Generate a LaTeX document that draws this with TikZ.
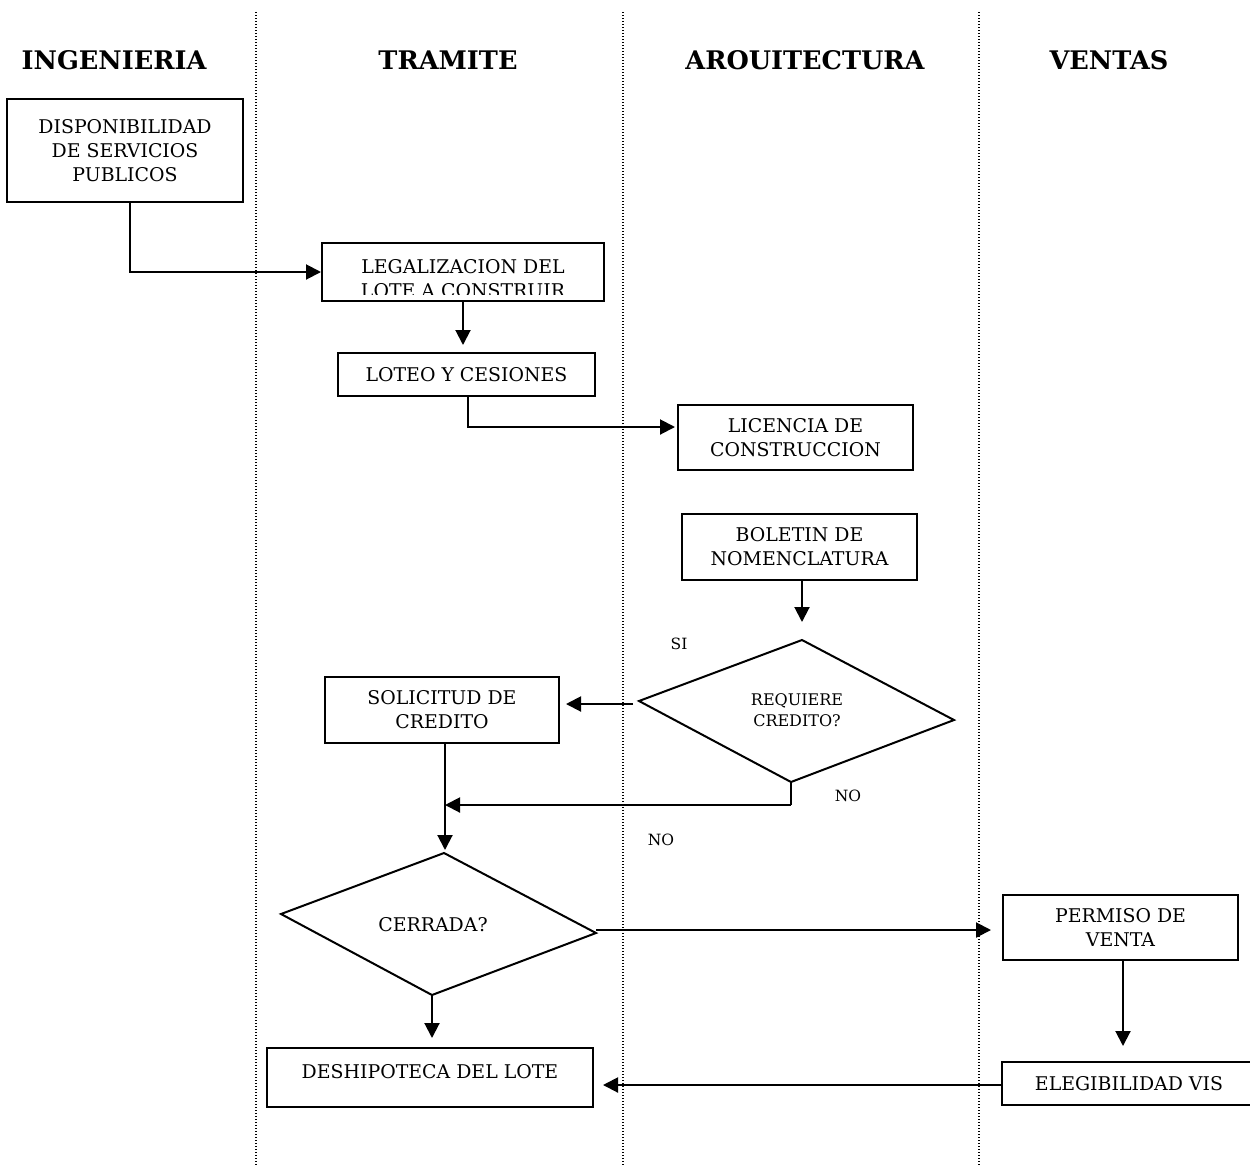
\documentclass[tikz,border=0pt]{standalone}
\usepackage{fontspec}
\setmainfont{DejaVu Serif}
\usetikzlibrary{arrows.meta,calc}

\tikzset{
  box/.style={draw, line width=2pt, inner sep=0pt, align=center,
    font=\fontsize{18.9}{24}\selectfont},
  boxtext/.style={inner sep=0pt, align=center, font=\fontsize{18.9}{24}\selectfont},
  smalltext/.style={inner sep=0pt, align=center, font=\fontsize{16}{21}\selectfont},
  tag/.style={inner sep=0pt, font=\fontsize{15.5}{20}\selectfont},
  lanehead/.style={inner sep=0pt, anchor=base, font=\fontsize{25.6}{30}\selectfont\bfseries},
  lane/.style={line width=1.4pt, dash pattern=on 1.4pt off 1.6pt},
  shape line/.style={line width=2pt, line join=miter},
  arr/.style={line width=2pt, -{Triangle[length=15pt,width=15pt]}},
  plain/.style={line width=2pt}
}

\begin{document}
\begin{tikzpicture}[x=1pt, y=-1pt]
  \useasboundingbox (0,0) rectangle (1250,1165);

  % lane separators
  \draw[lane] (256,12) -- (256,1165);
  \draw[lane] (623,12) -- (623,1165);
  \draw[lane] (979,12) -- (979,1165);

  % lane headings
  \node[lanehead] (hIng) at (114,69) {INGENIERIA};
  \node[lanehead] (hTra) at (448,69) {TRAMITE};
  \node[lanehead] (hArq) at (805,69) {AROUITECTURA};
  \node[lanehead] (hVen) at (1109,69) {VENTAS};

  % process boxes
  \node[box, minimum width=236pt, minimum height=103pt] (disp) at (125,150.5)
    {DISPONIBILIDAD\\DE SERVICIOS\\PUBLICOS};
  \node[box, minimum width=282pt, minimum height=58pt] (legal) at (463,272) {};
  \begin{scope}
    \clip ($(legal.south west)+(0,-8)$) rectangle (legal.north east);
    \node[boxtext] (legalText) at (463,279) {LEGALIZACION DEL\\LOTE A CONSTRUIR};
  \end{scope}
  \node[box, minimum width=257pt, minimum height=43pt] (loteo) at (466.5,374.5)
    {LOTEO Y CESIONES};
  \node[box, minimum width=235pt, minimum height=65pt] (licencia) at (795.5,437.5)
    {LICENCIA DE\\CONSTRUCCION};
  \node[box, minimum width=235pt, minimum height=66pt] (boletin) at (799.5,547)
    {BOLETIN DE\\NOMENCLATURA};
  \node[box, minimum width=234pt, minimum height=66pt] (solicitud) at (442,710)
    {SOLICITUD DE\\CREDITO};
  \node[box, minimum width=326pt, minimum height=59pt, text depth=13pt] (deship) at (430,1077.5)
    {DESHIPOTECA DEL LOTE};
  \node[box, minimum width=235pt, minimum height=65pt] (permiso) at (1120.5,927.5)
    {PERMISO DE\\VENTA};
  \node[box, minimum width=254pt, minimum height=43pt] (eleg) at (1129,1083.5)
    {ELEGIBILIDAD VIS};

  % decision: requiere credito
  \coordinate (rqT) at (802,640);
  \coordinate (rqR) at (954,720);
  \coordinate (rqB) at (791,782);
  \coordinate (rqL) at (639,701);
  \draw[shape line] (rqT) -- (rqR) -- (rqB) -- (rqL) -- cycle;
  \node[smalltext] (rq) at (797,710) {REQUIERE\\CREDITO?};

  % decision: cerrada
  \coordinate (crT) at (444,853);
  \coordinate (crR) at (596,933);
  \coordinate (crB) at (432,995);
  \coordinate (crL) at (281,914);
  \draw[shape line] (crT) -- (crR) -- (crB) -- (crL) -- cycle;
  \node[boxtext] (cr) at (433,925) {CERRADA?};

  % branch labels
  \node[tag] (si) at (679,644) {SI};
  \node[tag] (noA) at (848,796) {NO};
  \node[tag] (noB) at (661,840) {NO};

  % connectors
  \draw[arr] ($(disp.south)+(5,0)$) |- (legal.west);
  \draw[arr, shorten >=7pt] (legal.south) -- (legal.south |- loteo.north);
  \coordinate (lotX) at ($(loteo.south)+(1.5,0)$);
  \coordinate (licY) at ($(licencia.west)+(0,-10.5)$);
  \draw[arr, shorten >=2pt] (lotX) |- (licY);
  \coordinate (bolX) at (boletin.south -| rqT);
  \draw[arr, shorten >=18pt] (bolX) -- (rqT);
  \coordinate (siA) at ($(rqL)+(-6,3)$);
  \draw[arr, shorten >=6pt] (siA) -- (siA -| solicitud.east);
  \coordinate (solX) at ($(solicitud.south)+(3,0)$);
  \coordinate (noJ) at ($(rqB)+(0,23)$);
  \draw[plain] (rqB) -- (noJ);
  \draw[arr] (noJ) -- (noJ -| solX);
  \draw[arr, shorten >=3pt] (solX) -- (solX |- crT);
  \coordinate (crOut) at ($(crR)+(0,-3)$);
  \draw[arr, shorten >=11pt] (crOut) -- (crOut -| permiso.west);
  \draw[arr, shorten >=9pt] (crB) -- (crB |- deship.north);
  \coordinate (perX) at ($(permiso.south)+(2.5,0)$);
  \draw[arr, shorten >=15pt] (perX) -- (perX |- eleg.north);
  \coordinate (elY) at ($(eleg.west)+(0,1.5)$);
  \draw[arr, shorten >=9pt] (elY) -- (elY -| deship.east);
\end{tikzpicture}
\end{document}
